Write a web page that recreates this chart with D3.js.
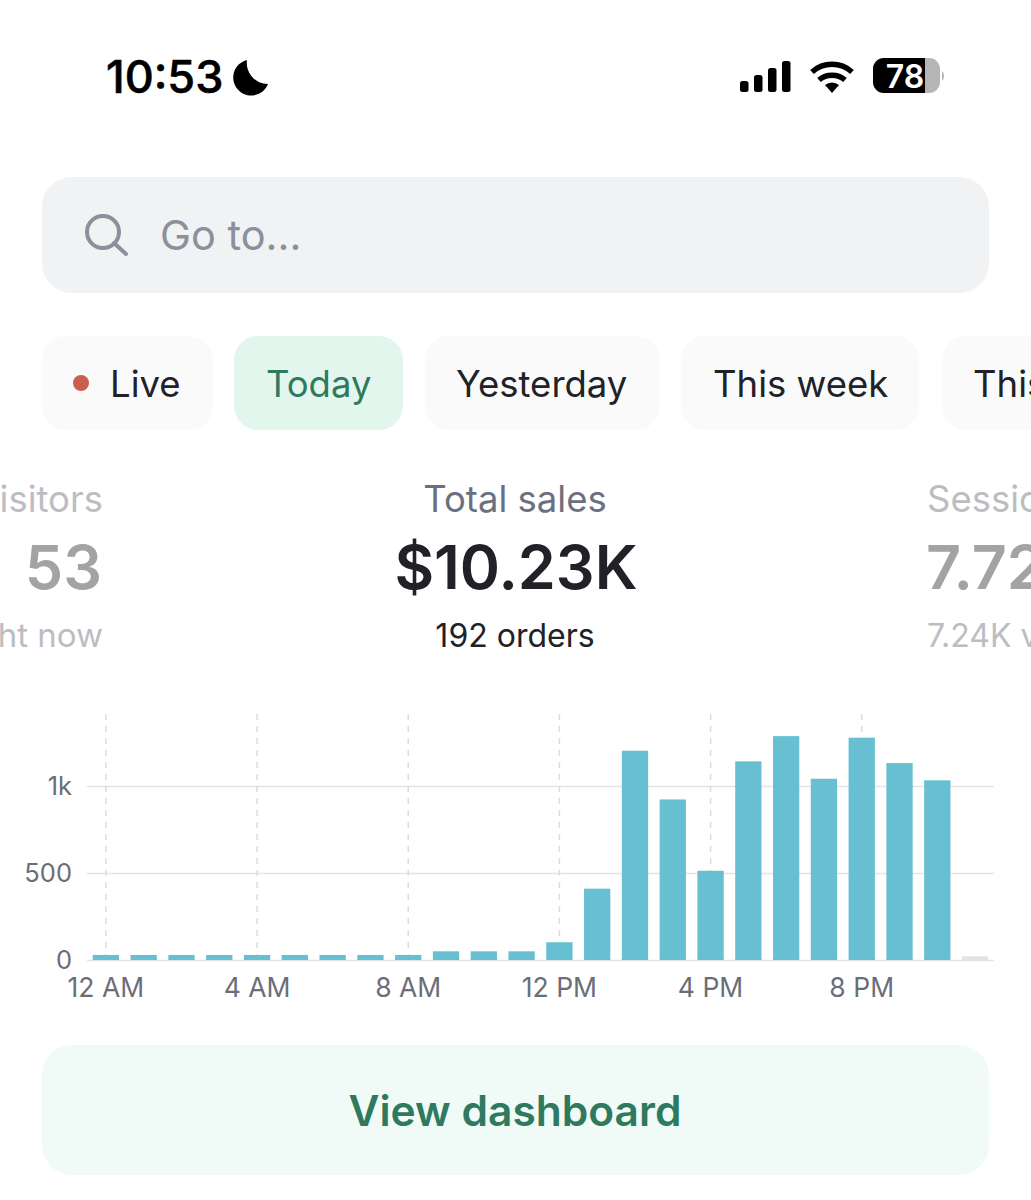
<!DOCTYPE html>
<html>
<head>
<meta charset="utf-8">
<script src="https://cdnjs.cloudflare.com/ajax/libs/d3/7.8.5/d3.min.js"></script>
<style>
    html, body { margin: 0; padding: 0; background: #fff; overflow: hidden; }
    svg { display: block; font-family: Inter, "Noto Sans", sans-serif; }
</style>
</head>
<body>
<script>
// Sales per hour
const hours = ["12 AM", "1 AM", "2 AM", "3 AM", "4 AM", "5 AM", "6 AM", "7 AM", "8 AM", "9 AM", "10 AM", "11 AM",
               "12 PM", "1 PM", "2 PM", "3 PM", "4 PM", "5 PM", "6 PM", "7 PM", "8 PM", "9 PM", "10 PM", "11 PM"];
const sales = [29, 29, 29, 29, 29, 29, 29, 29, 29, 50, 50, 50,
               102, 410, 1203, 923, 513, 1142, 1287, 1042, 1278, 1132, 1033, 0];
const futureHours = ["11 PM"];          // Not reached yet: stub in grey
const futureStub = 21;
const xTickLabels = ["12 AM", "4 AM", "8 AM", "12 PM", "4 PM", "8 PM"];
const yTicks = [0, 500, 1000];

const chips = ["Live", "Today", "Yesterday", "This week", "This month"];
const chipLeft = [42, 234, 425, 681, 942];
const chipRight = [213, 403, 660, 919, 1200];
const chipText = [110, 266, 456, 713, 973];

const width = 1031, height = 1200;
const green = "#2f7a5e", ink = "#202227", grey = "#8a909c", axisText = "#6b6e78";

const svg = d3.select("body").append("svg")
    .attr("width", width)
    .attr("height", height)
    .attr("viewBox", [0, 0, width, height]);

function label(txt, x, y, size, fill, anchor = "start", weight = 400) {
    return svg.append("text")
        .attr("x", x)
        .attr("y", y)
        .attr("font-size", size)
        .attr("font-weight", weight)
        .attr("fill", fill)
        .attr("text-anchor", anchor)
        .text(txt);
}

// --- Status bar ---
label("10:53", 106, 93, 45, "#000", "start", 500).attr("stroke", "#000").attr("stroke-width", 0.6);
svg.append("path")
    .attr("d", "M247 60 A18 18 0 1 0 268 84 A21 21 0 0 1 247 60 Z")
    .attr("fill", "#000");

svg.append("g").selectAll("rect")
    .data([11, 17, 24, 31])
    .join("rect")
    .attr("x", (d, i) => 740 + i * 14)
    .attr("y", d => 92 - d)
    .attr("width", 8.5)
    .attr("height", d => d)
    .attr("rx", 2.5)
    .attr("fill", "#000");

svg.append("g")
    .attr("fill", "none")
    .attr("stroke", "#000")
    .attr("stroke-width", 5.5)
    .selectAll("path")
    .data(["M812 72 A30 30 0 0 1 852 72", "M819 80 A20 20 0 0 1 845 80"])
    .join("path")
    .attr("d", d => d);
svg.append("path").attr("d", "M825 85 A11 11 0 0 1 839 85 L832 93 Z").attr("fill", "#000");

svg.append("rect").attr("x", 873).attr("y", 58).attr("width", 67).attr("height", 35).attr("rx", 11).attr("fill", "#b5b5b5");
svg.append("path").attr("d", "M925 58 H884 A11 11 0 0 0 873 69 V82 A11 11 0 0 0 884 93 H925 Z").attr("fill", "#000");
svg.append("path").attr("d", "M942 71 A7 7 0 0 1 942 81 Z").attr("fill", "#b5b5b5");
label("78", 905, 88, 32, "#fff", "middle", 600);

// --- Search box ---
svg.append("rect").attr("x", 42).attr("y", 177).attr("width", 947).attr("height", 116).attr("rx", 30).attr("fill", "#f1f2f4");
svg.append("circle").attr("cx", 103).attr("cy", 232).attr("r", 16).attr("fill", "none").attr("stroke", grey).attr("stroke-width", 4);
svg.append("line").attr("x1", 114).attr("y1", 243).attr("x2", 126).attr("y2", 254)
    .attr("stroke", grey).attr("stroke-width", 4).attr("stroke-linecap", "round");
label("Go to...", 160, 250, 41.5, grey);

// --- Date range chips ---
const chip = svg.append("g").selectAll("g")
    .data(chips)
    .join("g");
chip.append("rect")
    .attr("x", (d, i) => chipLeft[i])
    .attr("y", 336)
    .attr("width", (d, i) => chipRight[i] - chipLeft[i])
    .attr("height", 94)
    .attr("rx", 24)
    .attr("fill", d => d === "Today" ? "#e3f6ed" : "#fafafa");
chip.append("text")
    .attr("x", (d, i) => chipText[i])
    .attr("y", 397)
    .attr("font-size", 36.5)
    .attr("fill", d => d === "Today" ? green : ink)
    .text(d => d);
svg.append("circle").attr("cx", 81).attr("cy", 383).attr("r", 8).attr("fill", "#c9604d");

// --- Headline numbers ---
label("Visitors", 103, 512, 36.5, "#bcbdc1", "end");
label("53", 102, 589, 61, "#a3a3a3", "end", 600);
label("right now", 103, 647, 33, "#bcbdc1", "end");

label("Total sales", 515, 512, 36.5, "#6b7080", "middle");
label("$10.23K", 516, 589, 61, ink, "middle", 600);
label("192 orders", 515, 647, 32, ink, "middle");

label("Sessions", 927, 512, 36.5, "#bcbdc1");
label("7.72K", 926, 589, 61, "#a3a3a3", "start", 600);
label("7.24K visitors", 927, 647, 32, "#bcbdc1");

// --- Bar chart ---
const x = d3.scaleBand()
    .domain(hours)
    .range([87, 994])
    .paddingInner(0.304)
    .paddingOuter(0.152);

const y = d3.scaleLinear()
    .domain([0, 1420])
    .range([960, 713]);

// Horizontal grid with y labels
const yAxis = svg.append("g")
    .attr("transform", "translate(87,0)")
    .call(d3.axisLeft(y)
        .tickValues(yTicks)
        .tickSize(-907)
        .tickPadding(15)
        .tickFormat(d => d === 0 ? "0" : d >= 1000 ? d / 1000 + "k" : d));
yAxis.attr("font-family", null).attr("font-size", 25.5);
yAxis.select(".domain").remove();
yAxis.selectAll("line").attr("stroke", "#e3e3e8").attr("stroke-width", 1.5);
yAxis.selectAll("text").attr("fill", axisText);

// Vertical dashed grid with x labels
const xAxis = svg.append("g")
    .attr("transform", "translate(0,960)")
    .call(d3.axisBottom(x)
        .tickValues(xTickLabels)
        .tickSize(-247)
        .tickPadding(18));
xAxis.attr("font-family", null).attr("font-size", 26.5);
xAxis.select(".domain").remove();
xAxis.selectAll("line")
    .attr("stroke", "#dcdce0")
    .attr("stroke-width", 1.5)
    .attr("stroke-dasharray", "6 6");
xAxis.selectAll("text").attr("fill", axisText);

svg.append("g")
    .selectAll("rect")
    .data(hours.map((h, i) => ({hour: h, value: sales[i]})))
    .join("rect")
    .attr("x", d => x(d.hour))
    .attr("y", d => y(futureHours.includes(d.hour) ? futureStub : d.value))
    .attr("width", x.bandwidth())
    .attr("height", d => y(0) - y(futureHours.includes(d.hour) ? futureStub : d.value))
    .attr("fill", d => futureHours.includes(d.hour) ? "#e3e3e8" : "#66c0d2");

// --- Dashboard button ---
svg.append("rect").attr("x", 42).attr("y", 1045).attr("width", 947).attr("height", 130).attr("rx", 30).attr("fill", "#f0fbf7");
label("View dashboard", 515, 1126, 42.5, green, "middle", 600);
</script>
</body>
</html>
